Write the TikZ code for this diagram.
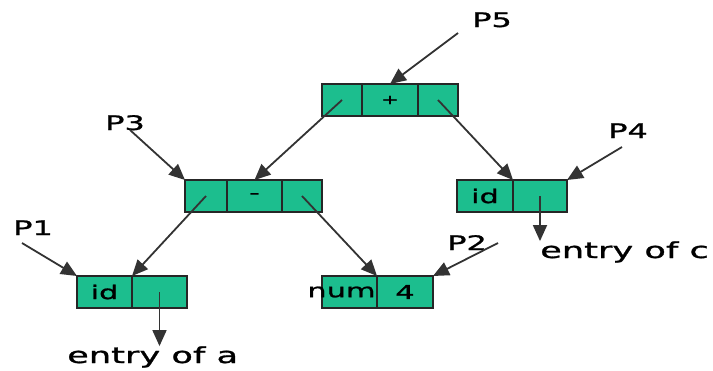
\documentclass[tikz,border=0pt]{standalone}
\usepackage{fontspec}
\usetikzlibrary{arrows.meta}
\newfontfamily\slidefont[FakeStretch=1.6, FakeBold=1.2]{DejaVu Sans}
\definecolor{cellgreen}{RGB}{28,190,142}
\tikzset{
  cell/.style={draw=black!85, fill=cellgreen, line width=1.4pt, minimum height=32pt,
    inner sep=0pt, outer sep=0pt, font=\slidefont\fontsize{19}{22}\selectfont},
  ptr/.style={draw=black!80, line width=1.8pt, -{Triangle[length=16pt,width=14pt]}},
  lbl/.style={anchor=base west, inner sep=0pt, font=\slidefont\fontsize{20}{24}\selectfont},
  entry/.style={anchor=base west, inner sep=0pt, font=\slidefont\fontsize{22}{26}\selectfont}
}
\begin{document}
\begin{tikzpicture}[x=1pt, y=-1pt]
    \useasboundingbox (0,0) rectangle (713,370);

    % Knoten: +
    \node[cell, minimum width=40pt] (plusL) at (342,100) {};
    \node[cell, minimum width=56pt, font=\slidefont\fontsize{13}{15}\selectfont] (plusM) at (390,100) {+};
    \node[cell, minimum width=40pt] (plusR) at (438,100) {};

    % Knoten: -
    \node[cell, minimum width=42pt] (minusL) at (206,196) {};
    \node[cell, minimum width=55pt, font=\slidefont\fontsize{18}{20}\selectfont] (minusM) at (254.5,196) {\raisebox{-3pt}{-}};
    \node[cell, minimum width=40pt] (minusR) at (302,196) {};

    % Blätter
    \node[cell, minimum width=56pt] (idcL) at (485,196) {id};
    \node[cell, minimum width=54pt] (idcR) at (540,196) {};
    \node[cell, minimum width=55pt] (idaL) at (104.5,292) {id};
    \node[cell, minimum width=55pt] (idaR) at (159.5,292) {};
    \node[cell, minimum width=55pt] (numL) at (349.5,292) {\makebox[55pt][c]{num\hspace{16pt}}};
    \node[cell, minimum width=56pt] (numR) at (405,292) {4};

    % Zeiger-Namen
    \node[lbl] (p5) at (472,27) {P5};
    \node[lbl] (p3) at (105,130) {P3};
    \node[lbl] (p4) at (608,138) {P4};
    \node[lbl] (p1) at (13,235) {P1};
    \node[lbl] (p2) at (447,250) {P2};
    \node[entry] (entryC) at (540,258) {entry of c};
    \node[entry] (entryA) at (67,363) {entry of a};

    \coordinate (p5tail) at (458,33);
    \coordinate (p3tail) at (130,130);
    \coordinate (p4tail) at (622,147);
    \coordinate (p1tail) at (22,243);
    \coordinate (p2tail) at (498,243);

    % Kanten im Baum
    \draw[ptr] (plusL.center) -- (minusM.north);
    \draw[ptr] (plusR.center) -- (idcL.north east);
    \draw[ptr] (minusL.center) -- (idaL.north east);
    \draw[ptr] (minusR.center) -- (numL.north east);

    % Zeiger
    \draw[ptr] (p5tail) -- (plusM.north);
    \draw[ptr] (p3tail) -- (minusL.north west);
    \draw[ptr] (p4tail) -- (idcR.north east);
    \draw[ptr] (p1tail) -- (idaL.north west);
    \draw[ptr] (p2tail) -- (numR.north east);

    % Symboltabelle
    \draw[ptr] (idcR.center) -- (idcR.center |- entryC.north);
    \draw[ptr] (idaR.center) -- (idaR.center |- entryA.north);
\end{tikzpicture}
\end{document}
